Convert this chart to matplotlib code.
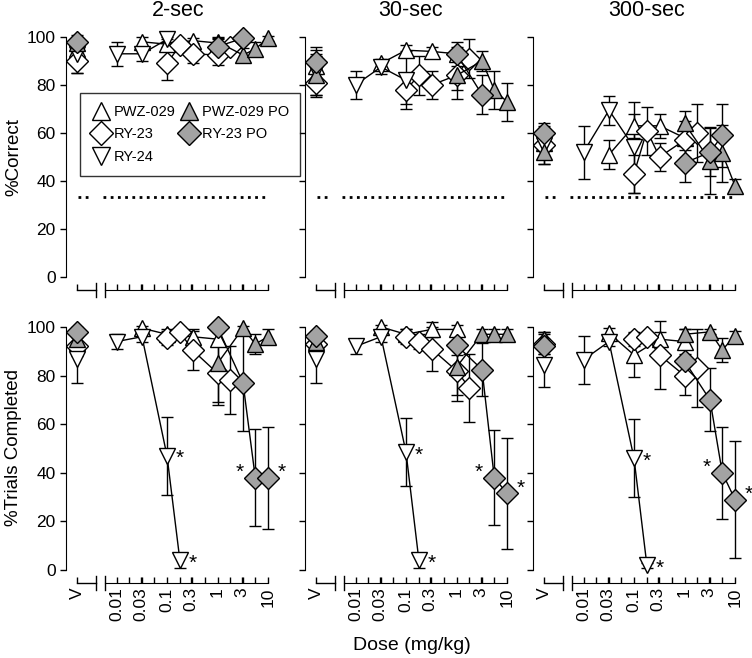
import matplotlib
matplotlib.use('Agg')
import matplotlib.pyplot as plt
import matplotlib.transforms as mtransforms
import numpy as np

plt.rcParams['font.family'] = ['Liberation Sans', 'DejaVu Sans']

nan = np.nan
titles = ['2-sec', '30-sec', '300-sec']
tick_labels = ['V', '0.01', '0.03', '0.1', '0.3', '1', '3', '10']
tick_doses = [0.01, 0.03, 0.1, 0.3, 1, 3, 10]
chance = 33.3

# doses (mg/kg); first value of every series below is the vehicle (V)
pwz_doses = [0.032, 0.1, 0.32, 1.0]
ry23_doses = [0.1, 0.18, 0.32, 1.0, 1.8]
ry24_doses = [0.01, 0.032, 0.1, 0.18]
po_doses = [1.0, 3.2, 5.6, 10.0]

# %Correct
c2_pwz = [95, 98, 97, 98.5, 97.5]
c2_pwz_e = [3, 2, 2, 1, 2]
c2_ry23 = [90, 89, 96.5, 93, 92.5, 96]
c2_ry23_e = [5, 7, 2, 4, 4, 2]
c2_ry24 = [93, 93, 93, 99, nan]
c2_ry24_e = [8, 5, 3, 1, 0]
c2_pwzpo = [97.5, 98, 92.5, 95, 99.5]
c2_pwzpo_e = [2, 2, 3, 3, 1]
c2_ry23po = [98, 96, 99.5, nan, nan]
c2_ry23po_e = [2, 3, 1, 0, 0]

c30_pwz = [88, 89, 94.5, 94, 93]
c30_pwz_e = [5, 2, 2, 2, 3]
c30_ry23 = [81, 78, 84, 80, 84, 91]
c30_ry23_e = [6, 6, 8, 6, 6, 8]
c30_ry24 = [86, 80, 87.5, 82, nan]
c30_ry24_e = [10, 6, 3, 12, 0]
c30_pwzpo = [84, 84, 90, 78, 73]
c30_pwzpo_e = [8, 10, 4, 8, 8]
c30_ry23po = [89.5, 93, 76, nan, nan]
c30_ry23po_e = [5, 5, 8, 0, 0]

c300_pwz = [56, 51, 63, 63, 58]
c300_pwz_e = [6, 6, 5, 5, 5]
c300_ry23 = [55, 43, 61, 50, 57, 60]
c300_ry23_e = [6, 8, 10, 6, 8, 12]
c300_ry24 = [55, 52, 69.5, 54, nan]
c300_ry24_e = [8, 11, 6, 19, 0]
c300_pwzpo = [52, 64, 48.5, 51.5, 38]
c300_pwzpo_e = [5, 5, 14, 12, 3]
c300_ry23po = [60, 47.5, 52, 59, nan]
c300_ry23po_e = [4, 8, 10, 13, 0]

# %Trials Completed
t2_pwz = [94, 99.5, 97, 96, 95]
t2_pwz_e = [4, 1, 2, 3, 3]
t2_ry23 = [92, 95.5, 98, 90.5, 81, 78]
t2_ry23_e = [4, 3, 2, 8, 13, 14]
t2_ry24 = [87, 94, 96, 47, 4]
t2_ry24_e = [10, 3, 2, 16, 3]
t2_pwzpo = [95, 85, 99.5, 93, 96]
t2_pwzpo_e = [3, 16, 1, 4, 3]
t2_ry23po = [98, 100, 77, 38, 38]
t2_ry23po_e = [2, 1, 20, 20, 21]

t30_pwz = [95, 100, 97, 99, 99]
t30_pwz_e = [3, 1, 2, 3, 2]
t30_ry23 = [93, 96, 94, 91, 82, 75]
t30_ry23_e = [4, 3, 3, 9, 10, 14]
t30_ry24 = [87, 92, 96, 48.5, 4]
t30_ry24_e = [10, 3, 2, 14, 3]
t30_pwzpo = [94, 83.5, 97, 97, 97]
t30_pwzpo_e = [3, 14, 2, 2, 2]
t30_ry23po = [96.5, 92.5, 82.5, 38, 31.5]
t30_ry23po_e = [2, 4, 11, 19.5, 23]

t300_pwz = [95, 97.5, 88.5, 95, 94]
t300_pwz_e = [3, 2, 9, 3, 5]
t300_ry23 = [93, 95, 96, 88.5, 80, 83]
t300_ry23_e = [4, 3, 2, 14, 8, 16]
t300_ry24 = [84.5, 86.5, 94, 46, 2]
t300_ry24_e = [9, 10, 2, 16, 1]
t300_pwzpo = [95, 97, 98, 90.5, 96.5]
t300_pwzpo_e = [3, 2, 1, 5, 2]
t300_ry23po = [92, 86, 70, 40, 29]
t300_ry23po_e = [3, 5, 13, 19, 24]

# doses marked with * on the trials panels
sig_ry24 = [0.1, 0.18]
sig_ry23po = [5.6, 10.0]

V_POS = -2.78
GRAY = '#a3a3a3'

# name, doses, marker, face, size
styles = [
    ('PWZ-029', pwz_doses, '^', 'white', 12),
    ('RY-23', ry23_doses, 'D', 'white', 11),
    ('RY-24', ry24_doses, 'v', 'white', 12),
    ('PWZ-029 PO', po_doses, '^', GRAY, 12),
    ('RY-23 PO', po_doses, 'D', GRAY, 11),
]
panels = [
    [(c2_pwz, c2_pwz_e), (c2_ry23, c2_ry23_e), (c2_ry24, c2_ry24_e), (c2_pwzpo, c2_pwzpo_e), (c2_ry23po, c2_ry23po_e)],
    [(c30_pwz, c30_pwz_e), (c30_ry23, c30_ry23_e), (c30_ry24, c30_ry24_e), (c30_pwzpo, c30_pwzpo_e), (c30_ry23po, c30_ry23po_e)],
    [(c300_pwz, c300_pwz_e), (c300_ry23, c300_ry23_e), (c300_ry24, c300_ry24_e), (c300_pwzpo, c300_pwzpo_e), (c300_ry23po, c300_ry23po_e)],
    [(t2_pwz, t2_pwz_e), (t2_ry23, t2_ry23_e), (t2_ry24, t2_ry24_e), (t2_pwzpo, t2_pwzpo_e), (t2_ry23po, t2_ry23po_e)],
    [(t30_pwz, t30_pwz_e), (t30_ry23, t30_ry23_e), (t30_ry24, t30_ry24_e), (t30_pwzpo, t30_pwzpo_e), (t30_ry23po, t30_ry23po_e)],
    [(t300_pwz, t300_pwz_e), (t300_ry23, t300_ry23_e), (t300_ry24, t300_ry24_e), (t300_pwzpo, t300_pwzpo_e), (t300_ry23po, t300_ry23po_e)],
]

W, H = 752, 658
fig = plt.figure(figsize=(W / 100, H / 100), dpi=100)

col_left = [66, 305, 533]
row_top = [37, 327]
row_h = [240, 243]
ax_w = 4.3 * 50.5

for idx in range(6):
    row, col = divmod(idx, 3)
    ax = fig.add_axes([col_left[col] / W, 1 - (row_top[row] + row_h[row]) / H,
                       ax_w / W, row_h[row] / H])
    ax.set_xlim(-3.0, 1.3)
    ax.set_ylim(0, 100)
    for s in ['top', 'right']:
        ax.spines[s].set_visible(False)
    # main dose axis sits below the plot, with its own short vehicle segment
    ax.spines['bottom'].set_position(('outward', 9.5))
    ax.spines['bottom'].set_bounds(-2.22, 1.0)
    ax.set_xticks([V_POS] + list(np.log10(tick_doses)))
    ax.set_xticks(np.arange(-2.0, 1.01, 0.25), minor=True)
    ax.tick_params(axis='x', which='both', direction='in', length=4, width=1,
                   labelsize=12.5, labelrotation=90, pad=3)
    ax.tick_params(axis='y', direction='out', length=4, width=1, labelsize=12.5)
    ax.set_yticks([0, 20, 40, 60, 80, 100])
    if row == 1:
        ax.set_xticklabels(tick_labels)
    else:
        ax.set_xticklabels([])
    if col != 0:
        ax.set_yticklabels([])

    trans = mtransforms.offset_copy(ax.get_xaxis_transform(), fig=fig, y=-13, units='dots')
    ax.plot([V_POS, -2.4], [0, 0], color='black', lw=1, transform=trans, clip_on=False)
    # break marks
    for bx in [-2.4, -2.22]:
        t_lo = mtransforms.offset_copy(ax.get_xaxis_transform(), fig=fig, y=-20, units='dots')
        t_hi = mtransforms.offset_copy(ax.get_xaxis_transform(), fig=fig, y=-6, units='dots')
        lo = t_lo.transform((bx, 0))
        hi = t_hi.transform((bx, 0))
        fig.add_artist(plt.Line2D([lo[0] / W, hi[0] / W], [lo[1] / H, hi[1] / H],
                                  color='black', lw=1))

    if row == 0:
        ax.plot([-2.76, -2.48], [chance, chance], ls=(0, (1, 1.6)), color='black', lw=2)
        ax.plot([-2.27, 1.02], [chance, chance], ls=(0, (1, 1.6)), color='black', lw=2)

    for (name, doses, mk, face, ms), (vals, errs) in zip(styles, panels[idx]):
        kw = dict(marker=mk, mfc=face, mec='black', mew=1, ms=ms, color='black',
                  ecolor='black', elinewidth=1, capsize=4, capthick=1, lw=1, clip_on=False)
        ax.errorbar([V_POS], vals[:1], yerr=errs[:1], ls='none', **kw)
        ax.errorbar(np.log10(doses), vals[1:], yerr=errs[1:], ls='-', **kw)

    if row == 1:
        ry24_vals = panels[idx][2][0]
        for d in sig_ry24:
            y = ry24_vals[1 + ry24_doses.index(d)]
            ax.annotate('*', (np.log10(d), y), xytext=(9, -2), textcoords='offset points',
                        fontsize=15, ha='center', va='center')
        po_vals = panels[idx][4][0]
        for d, dx in zip(sig_ry23po, [-11, 10]):
            y = po_vals[1 + po_doses.index(d)]
            ax.annotate('*', (np.log10(d), y), xytext=(dx, 4), textcoords='offset points',
                        fontsize=15, ha='center', va='center')

for c, t in enumerate(titles):
    fig.text([178, 411, 647][c] / W, 1 - 11 / H, t, ha='center', va='center', fontsize=15.5)

fig.text(14 / W, 1 - 157 / H, '%Correct', rotation=90, ha='center', va='center', fontsize=13.5)
fig.text(14 / W, 1 - 448 / H, '%Trials Completed', rotation=90, ha='center', va='center', fontsize=13.5)
fig.text(412 / W, 1 - 645 / H, 'Dose (mg/kg)', ha='center', va='center', fontsize=14)

handles = [plt.Line2D([], [], marker=mk, mfc=face, mec='black', mew=1, ms=ms + 1, ls='none')
           for (name, doses, mk, face, ms) in styles]
labels = [s[0] for s in styles]
leg = fig.legend(handles, labels, ncol=2, loc='upper left', bbox_to_anchor=(80 / W, 1 - 93 / H),
                 borderaxespad=0, frameon=True, fancybox=False, edgecolor='black', fontsize=10.5,
                 handletextpad=0.2, columnspacing=0.3, borderpad=0.8, labelspacing=0.6,
                 handlelength=1.3)
leg.get_frame().set_linewidth(1)

fig.savefig('out.png', dpi=100)
